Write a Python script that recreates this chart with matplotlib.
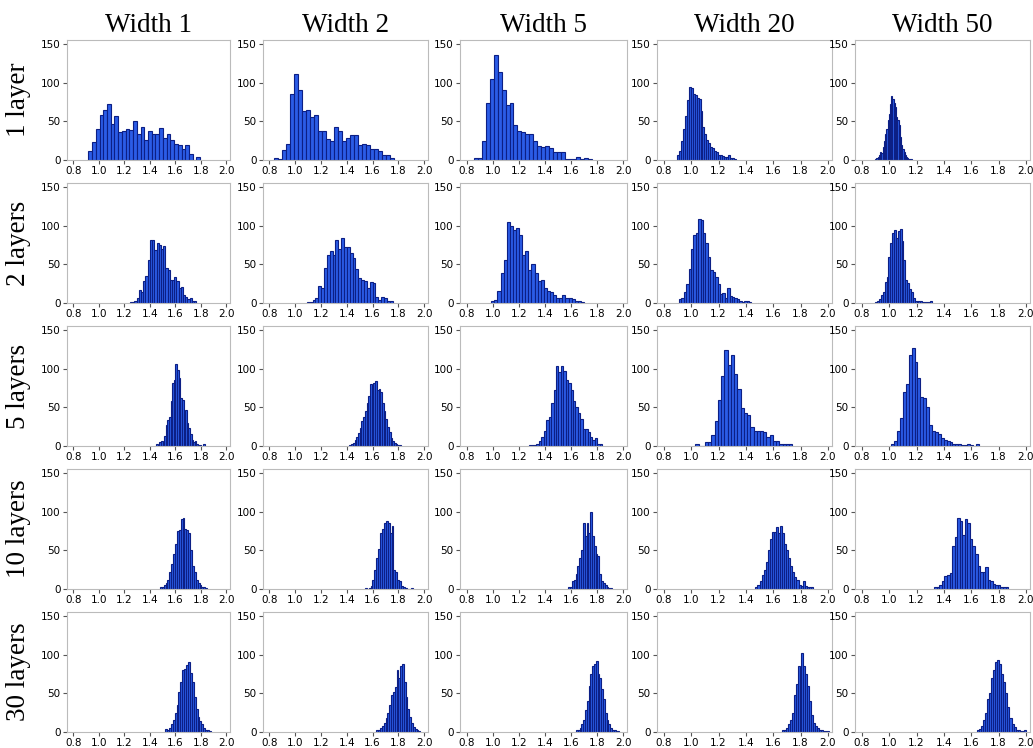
import numpy as np
import matplotlib.pyplot as plt

widths = ['Width 1', 'Width 2', 'Width 5', 'Width 20', 'Width 50']
depths = ['1 layer', '2 layers', '5 layers', '10 layers', '30 layers']

# (lo, hi) of the histogram range per panel, and bin counts
row1_ranges = [(0.918, 1.796), (0.835, 1.769), (0.858, 1.763), (0.895, 1.328), (0.898, 1.168)]
row1_counts = [
    [12, 23, 40, 58, 64, 72, 46, 57, 36, 38, 40, 39, 50, 34, 42, 26, 38, 33, 34, 41, 29, 34, 26, 21, 20, 14, 20, 8, 0, 4],
    [2, 1, 13, 21, 85, 111, 91, 63, 64, 55, 58, 37, 37, 27, 25, 42, 37, 24, 28, 32, 32, 20, 21, 20, 14, 14, 11, 7, 6, 2],
    [3, 2, 24, 73, 104, 135, 114, 91, 71, 73, 45, 38, 36, 34, 33, 24, 18, 17, 18, 16, 10, 10, 10, 1, 1, 1, 4, 1, 2, 1],
    [7, 12, 24, 40, 57, 77, 94, 93, 85, 84, 80, 79, 63, 42, 33, 26, 22, 17, 15, 12, 10, 7, 7, 5, 4, 4, 7, 3, 2, 1],
    [1, 2, 4, 7, 10, 9, 17, 24, 33, 40, 52, 60, 72, 83, 79, 74, 68, 55, 52, 45, 30, 20, 14, 10, 6, 4, 3, 1, 1, 1],
]

row2_ranges = [(1.245, 1.765), (1.09, 1.755), (0.99, 1.70), (0.91, 1.44), (0.898, 1.31)]
row2_counts = [
    [1, 1, 3, 7, 17, 14, 28, 35, 55, 82, 82, 68, 78, 75, 70, 74, 45, 42, 30, 30, 33, 28, 20, 21, 10, 8, 5, 7, 3, 3],
    [1, 1, 4, 6, 22, 20, 45, 62, 67, 62, 82, 70, 84, 72, 72, 65, 58, 44, 32, 30, 29, 19, 27, 26, 8, 4, 8, 6, 3, 3],
    [2, 4, 15, 39, 55, 105, 100, 94, 97, 88, 62, 67, 43, 50, 39, 29, 30, 20, 16, 14, 10, 7, 6, 10, 7, 7, 5, 2, 2, 1],
    [5, 7, 14, 25, 44, 70, 88, 90, 108, 107, 90, 78, 60, 42, 40, 33, 25, 12, 13, 6, 20, 9, 8, 6, 5, 2, 1, 2, 2, 1],
    [1, 3, 5, 10, 14, 27, 33, 60, 78, 90, 94, 84, 93, 95, 80, 55, 30, 26, 18, 14, 6, 3, 2, 3, 3, 1, 1, 1, 1, 2],
]

row3_ranges = [(1.45, 1.83), (1.42, 1.82), (1.28, 1.84), (1.03, 1.74), (1.015, 1.655)]
row3_counts = [
    [2, 0, 5, 6, 5, 13, 27, 34, 37, 58, 82, 85, 106, 98, 88, 62, 60, 42, 46, 30, 23, 15, 8, 5, 6, 2, 1, 1, 0, 2],
    [1, 2, 4, 8, 12, 17, 23, 32, 37, 45, 55, 65, 80, 75, 82, 84, 72, 73, 70, 55, 45, 35, 25, 18, 10, 6, 4, 2, 1, 1],
    [1, 1, 1, 2, 6, 12, 20, 33, 38, 55, 72, 103, 95, 103, 97, 85, 82, 72, 58, 50, 42, 35, 22, 22, 18, 12, 8, 10, 3, 2],
    [2, 0, 0, 5, 5, 14, 32, 60, 90, 124, 105, 117, 93, 74, 49, 42, 40, 24, 20, 20, 20, 18, 12, 14, 7, 6, 3, 2, 2, 3],
    [2, 6, 20, 36, 70, 80, 118, 126, 108, 88, 63, 62, 50, 27, 20, 18, 15, 10, 8, 6, 5, 3, 3, 2, 1, 1, 2, 1, 0, 2],
]

row4_ranges = [(1.48, 1.85), (1.54, 1.91), (1.58, 1.915), (1.47, 1.89), (1.33, 1.87)]
row4_counts = [
    [2, 3, 5, 8, 12, 22, 32, 45, 58, 75, 76, 90, 92, 77, 76, 72, 50, 30, 22, 12, 8, 5, 2, 2, 1],
    [1, 0, 1, 4, 12, 25, 40, 52, 72, 78, 85, 88, 85, 72, 82, 25, 22, 12, 10, 4, 2, 1, 0, 0, 1],
    [3, 2, 10, 12, 20, 30, 40, 50, 85, 68, 85, 72, 100, 68, 55, 45, 42, 20, 10, 8, 5, 2, 1, 1],
    [2, 5, 10, 18, 25, 35, 50, 65, 74, 73, 80, 72, 82, 72, 58, 50, 40, 30, 22, 15, 12, 5, 4, 10, 4, 2, 2, 2],
    [2, 2, 5, 10, 17, 18, 21, 55, 67, 92, 88, 70, 91, 85, 65, 55, 45, 30, 22, 22, 28, 12, 10, 6, 5, 5, 2, 2, 3],
]

row5_ranges = [(1.52, 1.88), (1.63, 1.97), (1.64, 1.97), (1.665, 2.005), (1.64, 2.00)]
row5_counts = [
    [4, 2, 5, 10, 16, 25, 35, 52, 65, 80, 82, 86, 90, 76, 65, 45, 30, 20, 14, 10, 5, 3, 2, 1],
    [2, 3, 5, 8, 12, 18, 25, 35, 48, 52, 58, 80, 70, 85, 88, 65, 45, 30, 20, 12, 7, 4, 2, 1],
    [2, 3, 5, 10, 15, 28, 40, 60, 75, 85, 88, 92, 75, 70, 55, 42, 25, 15, 10, 5, 3, 2, 1, 1],
    [2, 3, 5, 10, 15, 25, 48, 62, 85, 80, 102, 85, 75, 60, 40, 22, 12, 8, 5, 3, 2, 1, 1, 1],
    [2, 4, 8, 15, 25, 42, 50, 70, 80, 90, 93, 88, 75, 65, 50, 32, 18, 10, 6, 3, 2, 1, 1, 2],
]

all_ranges = [row1_ranges, row2_ranges, row3_ranges, row4_ranges, row5_ranges]
all_counts = [row1_counts, row2_counts, row3_counts, row4_counts, row5_counts]

xticks = [0.8, 1.0, 1.2, 1.4, 1.6, 1.8, 2.0]

W, H = 1033, 748
col_px = [(67, 230), (263, 428), (460, 627), (657, 832), (855, 1030)]
row_px = [(40, 160), (183, 303), (326, 446), (469, 589), (612, 732)]

fig = plt.figure(figsize=(W / 100, H / 100), dpi=100)

for i in range(5):
    for j in range(5):
        x0, x1 = col_px[j]
        y0, y1 = row_px[i]
        ax = fig.add_axes([x0 / W, 1 - y1 / H, (x1 - x0) / W, (y1 - y0) / H])
        lo, hi = all_ranges[i][j]
        c = all_counts[i][j]
        edges = np.linspace(lo, hi, len(c) + 1)
        ax.hist(edges[:-1], bins=edges, weights=c,
                color='#2b5ce6', edgecolor='#0c1f85', linewidth=0.8)
        ax.set_xlim(0.75, 2.03)
        ax.set_ylim(0, 155)
        ax.set_xticks(xticks)
        ax.set_xticklabels(['%.1f' % t for t in xticks])
        ax.set_yticks([0, 50, 100, 150])
        ax.tick_params(labelsize=7.5, length=3, color='#555555', pad=1.5)
        for s in ax.spines.values():
            s.set_color('#bbbbbb')
        if i == 0:
            ax.set_title(widths[j], fontsize=19.5, family='Liberation Serif', pad=6)
        if j == 0:
            ax.set_ylabel(depths[i], fontsize=19.5, family='Liberation Serif', labelpad=7)

fig.savefig('out.png')
